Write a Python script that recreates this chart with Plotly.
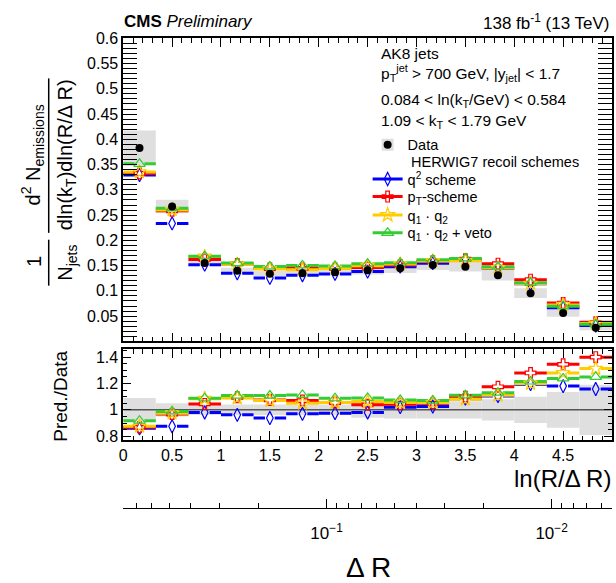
import math
import plotly.graph_objects as go

W, H = 616, 583

# ---------------- data ----------------
bin_edges = [0.0, 0.3333, 0.6667, 1.0, 1.3333, 1.6667, 2.0, 2.3333, 2.6667,
             3.0, 3.3333, 3.6667, 4.0, 4.3333, 4.6667, 5.0]

data_vals = [0.383, 0.267, 0.155, 0.140, 0.134, 0.135, 0.137, 0.141, 0.145,
             0.151, 0.148, 0.131, 0.0955, 0.0564, 0.027]
data_rel_unc = [0.09, 0.05, 0.04, 0.04, 0.04, 0.04, 0.04, 0.06, 0.065,
                0.065, 0.065, 0.08, 0.10, 0.135, 0.19]

mc_q2 = [0.3294, 0.2336, 0.1519, 0.1347, 0.1257, 0.1310, 0.1336, 0.1382, 0.1479,
         0.1548, 0.1606, 0.1448, 0.1141, 0.0666, 0.0313]
mc_pt = [0.3324, 0.2585, 0.1620, 0.1533, 0.1441, 0.1445, 0.1445, 0.1464, 0.1512,
         0.1586, 0.1628, 0.1539, 0.1222, 0.0759, 0.0378]
mc_q1q2 = [0.3351, 0.2603, 0.1682, 0.1526, 0.1434, 0.1418, 0.1445, 0.1499, 0.1530,
           0.1593, 0.1598, 0.1454, 0.1146, 0.0722, 0.0355]
mc_veto = [0.3516, 0.2638, 0.1686, 0.1551, 0.1485, 0.1503, 0.1491, 0.1537, 0.1559,
           0.1616, 0.1643, 0.1480, 0.1160, 0.0698, 0.0338]

ratio_q2 = [0.86, 0.875, 0.98, 0.962, 0.938, 0.97, 0.975, 0.98, 1.02,
            1.025, 1.085, 1.105, 1.195, 1.18, 1.158]
ratio_pt = [0.868, 0.968, 1.045, 1.095, 1.075, 1.07, 1.055, 1.038, 1.043,
            1.05, 1.10, 1.175, 1.28, 1.345, 1.40]
ratio_q1q2 = [0.875, 0.975, 1.085, 1.09, 1.07, 1.05, 1.055, 1.063, 1.055,
              1.055, 1.08, 1.11, 1.20, 1.28, 1.313]
ratio_veto = [0.918, 0.988, 1.088, 1.108, 1.108, 1.113, 1.088, 1.09, 1.075,
              1.07, 1.11, 1.13, 1.215, 1.238, 1.25]

series_names = ["q<sup>2</sup> scheme", "p<sub>T</sub>-scheme",
                "q<sub>1</sub> · q<sub>2</sub>", "q<sub>1</sub> · q<sub>2</sub> + veto"]

top_ytick_vals = [0.05, 0.1, 0.15, 0.2, 0.25, 0.3, 0.35, 0.4, 0.45, 0.5, 0.55, 0.6]
top_ytick_text = ["0.05", "0.1", "0.15", "0.2", "0.25", "0.3", "0.35", "0.4",
                  "0.45", "0.5", "0.55", "0.6"]
ratio_ytick_vals = [0.8, 1.0, 1.2, 1.4]
ratio_ytick_text = ["0.8", "1", "1.2", "1.4"]

jet_radius = 0.8
dr_major_vals = [0.1, 0.01]
dr_major_text = ["10<sup>−1</sup>", "10<sup>−2</sup>"]
dr_minor_vals = [0.8, 0.7, 0.6, 0.5, 0.4, 0.3, 0.2,
                 0.09, 0.08, 0.07, 0.06, 0.05, 0.04, 0.03, 0.02,
                 0.009, 0.008, 0.007, 0.006]

# ---------------- styles ----------------
FONT = "Liberation Sans, Arial, Helvetica, sans-serif"
colors = ["#0000ff", "#ff0000", "#ffcc00", "#33cc33"]
symbols = ["diamond-tall-open", "cross-open", "star-open", "triangle-up-open"]
msizes = [9.5, 9, 10.5, 10]
GRAY = "#dfdfdf"
GAP = 0.05


def px(x):
    return x / W


def py(y):
    return 1 - y / H


lows = bin_edges[:-1]
highs = bin_edges[1:]
centers = [(a + b) / 2 for a, b in zip(lows, highs)]
widths = [b - a for a, b in zip(lows, highs)]


def segments(vals):
    xs, ys = [], []
    for lo, hi, c, v in zip(lows, highs, centers, vals):
        xs += [lo, c - GAP, None, c + GAP, hi, None]
        ys += [v, v, None, v, v, None]
    return xs, ys


def points(vals):
    xs, ys = [], []
    for c, v in zip(centers, vals):
        xs += [c, None]
        ys += [v, None]
    return xs, ys


fig = go.Figure()

# data uncertainty boxes
err = [d * r for d, r in zip(data_vals, data_rel_unc)]
fig.add_trace(go.Bar(x=centers, y=[2 * e for e in err],
                     base=[d - e for d, e in zip(data_vals, err)],
                     width=widths, marker=dict(color=GRAY, line=dict(width=0)),
                     name="Data", legend="legend", showlegend=True,
                     hoverinfo="skip", xaxis="x", yaxis="y"))
fig.add_trace(go.Bar(x=centers, y=[2 * r for r in data_rel_unc],
                     base=[1 - r for r in data_rel_unc],
                     width=widths, marker=dict(color=GRAY, line=dict(width=0)),
                     showlegend=False, hoverinfo="skip", xaxis="x2", yaxis="y2"))
# unity line
fig.add_trace(go.Scatter(x=[bin_edges[0], bin_edges[-1]], y=[1, 1], mode="lines",
                         line=dict(color="#555555", width=1.5), showlegend=False,
                         hoverinfo="skip", xaxis="x2", yaxis="y2"))

mc_all = [mc_q2, mc_pt, mc_q1q2, mc_veto]
ratio_all = [ratio_q2, ratio_pt, ratio_q1q2, ratio_veto]
legend_ids = ["legend3", "legend4", "legend5", "legend6"]

for i in range(4):
    for vals, xa, ya in [(mc_all[i], "x", "y"), (ratio_all[i], "x2", "y2")]:
        sx, sy = segments(vals)
        fig.add_trace(go.Scatter(x=sx, y=sy, mode="lines",
                                 line=dict(color=colors[i], width=3),
                                 showlegend=False, hoverinfo="skip",
                                 xaxis=xa, yaxis=ya))
for i in range(4):
    for k, (vals, xa, ya) in enumerate([(mc_all[i], "x", "y"), (ratio_all[i], "x2", "y2")]):
        mx, my = points(vals)
        fig.add_trace(go.Scatter(x=mx, y=my, mode="lines+markers",
                                 line=dict(color=colors[i], width=3),
                                 marker=dict(symbol=symbols[i], size=msizes[i],
                                             color=colors[i], line=dict(width=1.2, color=colors[i])),
                                 connectgaps=False,
                                 name=series_names[i], legend=legend_ids[i],
                                 showlegend=(k == 0), hoverinfo="skip",
                                 xaxis=xa, yaxis=ya))

# data points
dx, dy = points(data_vals)
fig.add_trace(go.Scatter(x=dx, y=dy, mode="markers",
                         marker=dict(symbol="circle", size=8, color="black"),
                         name=" ", legend="legend2", showlegend=True,
                         hoverinfo="skip", xaxis="x", yaxis="y"))

# dummy for the Delta R axis
fig.add_trace(go.Scatter(x=[0.1], y=[None], mode="markers", showlegend=False,
                         hoverinfo="skip", xaxis="x3", yaxis="y"))

XD = [px(120), px(612)]
frame = dict(showline=True, linecolor="black", linewidth=1.6, mirror="allticks",
             ticks="inside", tickcolor="black", tickwidth=1, showgrid=False,
             zeroline=False)

layout = dict(
    width=W, height=H, margin=dict(l=0, r=0, t=0, b=0),
    paper_bgcolor="white", plot_bgcolor="white",
    font=dict(family=FONT, color="black", size=16),
    barmode="overlay", showlegend=True,
    xaxis=dict(domain=XD, anchor="y", range=[0, 5], dtick=0.5, tick0=0, ticklen=9,
               showticklabels=False,
               minor=dict(dtick=0.1, ticklen=4.5, ticks="inside", tickcolor="black"),
               **frame),
    yaxis=dict(domain=[py(341), py(31)], anchor="x", range=[0, 0.6],
               tickvals=top_ytick_vals, ticktext=top_ytick_text, ticklen=14,
               tickfont=dict(size=16),
               minor=dict(dtick=0.01, ticklen=7, ticks="inside", tickcolor="black"),
               **frame),
    xaxis2=dict(domain=XD, anchor="y2", range=[0, 5], dtick=0.5, tick0=0, ticklen=9,
                tickfont=dict(size=16),
                minor=dict(dtick=0.1, ticklen=4.5, ticks="inside", tickcolor="black"),
                **frame),
    yaxis2=dict(domain=[py(442), py(349)], anchor="x2", range=[0.77, 1.46],
                tickvals=ratio_ytick_vals, ticktext=ratio_ytick_text, ticklen=8,
                tickfont=dict(size=16),
                minor=dict(dtick=0.05, ticklen=4, ticks="inside", tickcolor="black"),
                **frame),
    xaxis3=dict(domain=XD, anchor="free", position=py(511), overlaying="x",
                type="log",
                range=[math.log10(jet_radius), math.log10(jet_radius * math.exp(-5))],
                tickvals=dr_major_vals, ticktext=dr_major_text, ticks="inside",
                ticklen=9, tickcolor="black", tickwidth=1, ticklabelstandoff=10,
                tickfont=dict(size=17),
                minor=dict(tickvals=dr_minor_vals, ticklen=4.5, ticks="inside",
                           tickcolor="black"),
                showline=True, linecolor="black", linewidth=1, showgrid=False,
                zeroline=False),
)

leg_common = dict(xanchor="left", yanchor="middle", bgcolor="rgba(0,0,0,0)",
                  borderwidth=0, font=dict(size=14.5, family=FONT, color="black"),
                  itemclick=False, itemdoubleclick=False)
leg_x = px(366)
layout["legend"] = dict(x=leg_x, y=py(140), **leg_common)
layout["legend2"] = dict(x=leg_x, y=py(140), **leg_common)
for lid, yy in zip(legend_ids, [175, 193, 211.7, 230]):
    layout[lid] = dict(x=leg_x, y=py(yy), **leg_common)

fig.update_layout(**layout)


def ann(text, x, y, size, xanchor="left", angle=0, **kw):
    fig.add_annotation(text=text, x=px(x), y=py(y), xref="paper", yref="paper",
                       xanchor=xanchor, yanchor="middle", showarrow=False,
                       textangle=angle, font=dict(size=size, family=FONT, color="black"),
                       **kw)


ann("<b>CMS</b> <i>Preliminary</i>", 119, 14, 17)
ann("138 fb<sup>-1</sup> (13 TeV)", 612, 14, 17, xanchor="right")
ann("AK8 jets", 377, 47, 15.5)
ann("p<sub>T</sub><sup>jet</sup> &gt; 700 GeV, |y<sub>jet</sub>| &lt; 1.7", 377, 66, 15.5)
ann("0.084 &lt; ln(k<sub>T</sub>/GeV) &lt; 0.584", 377, 95, 15.5)
ann("1.09 &lt; k<sub>T</sub> &lt; 1.79 GeV", 377, 116, 15.5)
ann("HERWIG7 recoil schemes", 408, 157.3, 14.5)

ann("ln(R/Δ R)", 613, 481, 24, xanchor="right")
ann("Δ R", 367, 572, 28, xanchor="center")
ann("Pred./Data", 57, 397, 19, xanchor="center", angle=-90)

ann("d<sup>2</sup> N<sub>emissions</sub>", 29, 150, 20, xanchor="center", angle=-90)
ann("dln(k<sub>T</sub>)dln(R/Δ R)", 63, 150, 20, xanchor="center", angle=-90)
ann("1", 30, 259, 20, xanchor="center", angle=-90)
ann("N<sub>jets</sub>", 63, 261, 20, xanchor="center", angle=-90)

for (y0, y1) in [(72, 230), (237, 284)]:
    fig.add_shape(type="line", xref="paper", yref="paper", x0=px(45), x1=px(45),
                  y0=py(y0), y1=py(y1), line=dict(color="black", width=1.5))

fig.write_html("out.html")
